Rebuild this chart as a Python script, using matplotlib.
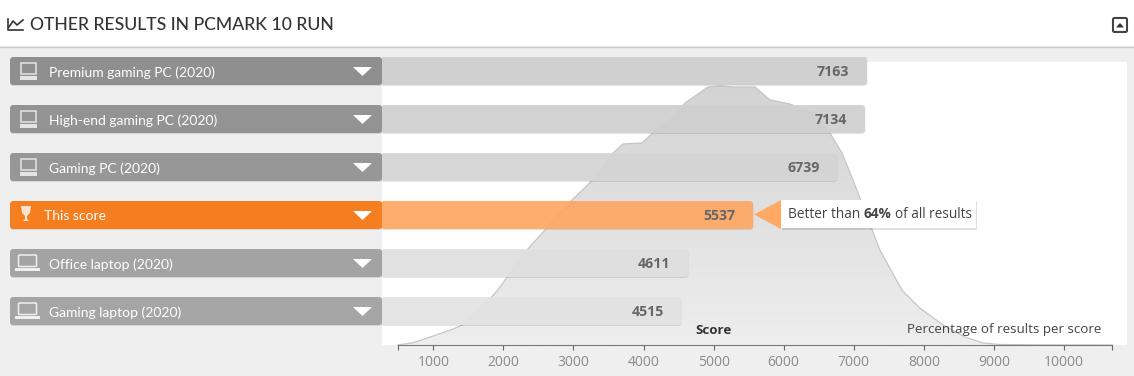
import numpy as np
import matplotlib
matplotlib.use("Agg")
import matplotlib.pyplot as plt
from matplotlib.colors import LinearSegmentedColormap
from matplotlib.patches import FancyBboxPatch, Polygon, Rectangle

categories = ["Premium gaming PC (2020)", "High-end gaming PC (2020)", "Gaming PC (2020)",
              "This score", "Office laptop (2020)", "Gaming laptop (2020)"]
scores = [7163, 7134, 6739, 5537, 4611, 4515]
icons = ["desktop", "desktop", "desktop", "trophy", "laptop", "laptop"]
left_colors = ["#8f8f8f", "#939393", "#979797", "#f47e20", "#a3a3a3", "#a5a5a5"]
bar_colors = ["#cfcfcf", "#d1d1d1", "#d6d6d6", "#ffa965", "#e1e1e1", "#e4e4e4"]

curve_score = [490, 710, 1000, 1280, 1420, 1665, 1920, 2335, 2595, 2965, 3378, 3564, 3707, 3978,
               4135, 4377, 4592, 4920, 5091, 5277, 5591, 5805, 6090, 6418, 6661, 6832, 6989,
               7046, 7374, 7688, 7945, 8273, 8587, 8844, 9087, 9660, 10690]
curve_share = [0, 0.9, 3.5, 6.2, 7.8, 13.6, 21.3, 36.8, 44.6, 55.8, 66.7, 74.4, 77.9, 78.3,
               82.2, 87.2, 93.8, 100, 100.4, 100, 100, 95, 93.4, 89.9, 82.2, 74.4, 64,
               60, 36.8, 21.3, 14.3, 7.8, 3.1, 0.8, 0.2, 0.05, 0]
ticks = [1000, 2000, 3000, 4000, 5000, 6000, 7000, 8000, 9000, 10000]
axis_ends = [490, 10690]

BG = "#efefef"
fig = plt.figure(figsize=(11.34, 3.76), dpi=100, facecolor=BG)

# page furniture in pixel coordinates
page = fig.add_axes([0, 0, 1, 1], zorder=0)
page.set_xlim(0, 1134)
page.set_ylim(376, 0)
page.axis("off")
page.add_patch(Rectangle((0, 0), 1134, 46, fc="white", ec="none"))
page.plot([0, 1134], [46.5, 46.5], color="#cccccc", lw=1)
page.add_patch(Rectangle((382, 62), 745, 283, fc="white", ec="none"))
page.text(30, 25, "OTHER RESULTS IN PCMARK 10 RUN", fontsize=12.7, family="Lato", fontweight="medium",
          color="#333333", va="center", ha="left")
page.plot([8, 8, 23], [19, 30, 30], color="#333333", lw=1.2)
page.plot([9, 13, 17, 23], [27, 21, 25, 20], color="#333333", lw=1.2)
page.add_patch(FancyBboxPatch((1113, 18), 14, 14, boxstyle="round,pad=0,rounding_size=1.5",
                              fc="white", ec="#444444", lw=1.5))
page.add_patch(Polygon([[1116, 27.5], [1120, 23], [1124, 27.5]], fc="#333333", ec="none"))

# distribution curve behind the bars
dist = fig.add_axes([0, 0, 1, 1], zorder=1)
dist.patch.set_visible(False)
dist.axis("off")
grad = np.linspace(0, 1, 256).reshape(-1, 1)
im = dist.imshow(grad, extent=[490, 10690, 0, 101], aspect="auto", origin="upper",
                 cmap=LinearSegmentedColormap.from_list("g", ["#d3d3d3", "#eeeeee"]), zorder=1)
poly = Polygon(np.column_stack([curve_score, curve_share]), closed=True, transform=dist.transData,
               fc="none", ec="none")
dist.add_patch(poly)
im.set_clip_path(poly)
dist.plot(curve_score, curve_share, color="#c6c6c6", lw=0.9, zorder=2)
dist.set_xlim(-5184, 11000)
dist.set_ylim(-12.0, 133.7)

# bars and the score axis
ax = fig.add_axes([0, 0, 1, 1], zorder=2)
ax.patch.set_visible(False)
ax.set_xlim(-5184, 11000)
ax.set_ylim(376, 0)
for s in ["top", "left", "right"]:
    ax.spines[s].set_visible(False)
ax.spines["bottom"].set_position(("data", 345))
ax.spines["bottom"].set_bounds(axis_ends[0], axis_ends[1])
ax.spines["bottom"].set_color("#777777")
ax.yaxis.set_visible(False)
ax.set_xticks(ticks)
ax.set_xticks(axis_ends, minor=True)
ax.tick_params(axis="x", which="both", direction="out", length=3.6, width=0.8, color="#666666")
ax.tick_params(axis="x", which="major", labelsize=10, labelcolor="#8a8a8a", pad=3.5)
for lab in ax.get_xticklabels():
    lab.set_family("Open Sans")

x_per_px = 16184 / 1134
bar_start = 1000 + (382 - 433.3) * x_per_px
panel_start = 1000 + (10 - 433.3) * x_per_px
round_x = 3.5 * x_per_px
end_pad = 2 * x_per_px
for i, (name, val) in enumerate(zip(categories, scores)):
    top = 57 + 48 * i
    h = 28
    w = val - bar_start + 20 + end_pad
    ax.add_patch(FancyBboxPatch((bar_start - 20, top + 1), w, h,
                                boxstyle=f"round,pad=0,rounding_size={round_x}",
                                mutation_aspect=1 / x_per_px, fc="#000000", ec="none", alpha=0.10))
    ax.add_patch(FancyBboxPatch((bar_start - 20, top), w, h,
                                boxstyle=f"round,pad=0,rounding_size={round_x}",
                                mutation_aspect=1 / x_per_px, fc=bar_colors[i], ec="none", alpha=0.93))
    ax.add_patch(FancyBboxPatch((panel_start, top + 1), bar_start - panel_start, h,
                                boxstyle=f"round,pad=0,rounding_size={round_x}",
                                mutation_aspect=1 / x_per_px, fc="#000000", ec="none", alpha=0.10))
    ax.add_patch(FancyBboxPatch((panel_start, top), bar_start - panel_start, h,
                                boxstyle=f"round,pad=0,rounding_size={round_x}",
                                mutation_aspect=1 / x_per_px, fc=left_colors[i], ec="none"))
    ax.annotate(f"{val}", (val, top + h / 2 + 0.5), xytext=(-11.5, 0), textcoords="offset points",
                ha="right", va="center", fontsize=10.2, fontweight="bold", family="Open Sans",
                color="#666666")

# pixel overlay for labels and icons
top_ax = fig.add_axes([0, 0, 1, 1], zorder=3)
top_ax.set_xlim(0, 1134)
top_ax.set_ylim(376, 0)
top_ax.axis("off")
for i, name in enumerate(categories):
    cy = 71 + 48 * i
    tx = 44 if icons[i] == "trophy" else 49
    top_ax.text(tx, cy + 1.5, name, family="Lato", fontsize=10, color="white", va="center", ha="left")
    top_ax.add_patch(Polygon([[353, cy - 4], [372, cy - 4], [362.5, cy + 5]], fc="white", ec="none"))
    if icons[i] == "desktop":
        top_ax.add_patch(Rectangle((20.5, cy - 8.5), 15, 11, fc="none", ec="#e4e4e4", lw=1.1))
        top_ax.add_patch(Rectangle((19.5, cy + 5), 17, 3.5, fc="#e4e4e4", ec="none"))
    elif icons[i] == "laptop":
        top_ax.add_patch(FancyBboxPatch((18.5, cy - 8), 18, 11.5, boxstyle="round,pad=0,rounding_size=1",
                                        fc="none", ec="#efefef", lw=1.1))
        top_ax.add_patch(Rectangle((14.5, cy + 5), 25, 3, fc="#efefef", ec="none"))
    else:
        top_ax.add_patch(Polygon([[21, cy - 9], [31, cy - 9], [30, cy - 2], [27, cy + 1], [27, cy + 4],
                                  [29, cy + 6], [23, cy + 6], [25, cy + 4], [25, cy + 1], [22, cy - 2]],
                                 fc="#fbe3cf", ec="none"))

# callout next to this score
top_ax.add_patch(Polygon([[754, 214.5], [781, 200], [781, 229]], fc="#ffa965", ec="none"))
top_ax.add_patch(Rectangle((782, 201), 195, 28.5, fc="black", ec="none", alpha=0.12))
top_ax.add_patch(Rectangle((781, 200), 195, 28, fc="white", ec="none"))
top_ax.text(788, 214.5, "Better than", family="Open Sans", fontsize=9.8, color="#444444", va="center")
top_ax.text(863, 214.5, "64%", family="Open Sans", fontsize=9.8, fontweight="bold", color="#444444", va="center")
top_ax.text(895, 214.5, "of all results", family="Open Sans", fontsize=9.8, color="#444444", va="center")

top_ax.text(713.5, 330, "Score", family="Open Sans", fontsize=9.6, fontweight="bold", color="#333333",
            ha="center", va="center")
top_ax.text(1101, 329, "Percentage of results per score", family="Open Sans", fontsize=9.6, color="#444444",
            ha="right", va="center")

fig.savefig("out.png", dpi=100, facecolor=BG)
